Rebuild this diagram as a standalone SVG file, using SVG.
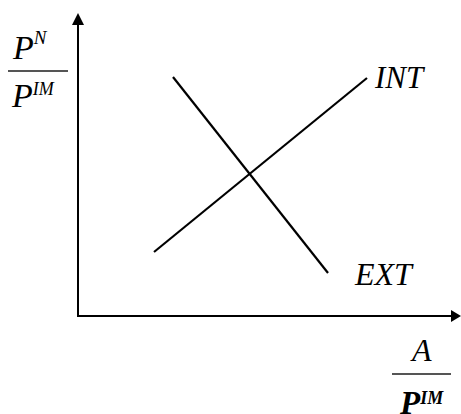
<svg xmlns="http://www.w3.org/2000/svg" width="461" height="414" viewBox="0 0 461 414">
<style>
.t{font-family:"Liberation Serif","Times New Roman",serif;font-style:italic;fill:#000}
.ax{stroke:#000;stroke-width:2;fill:none}
.ln{stroke:#000;stroke-width:2.2;fill:none}
.fr{stroke:#555;stroke-width:2}
</style>
<rect width="461" height="414" fill="#fff"/>
<g id="connectors">
<line class="ax" x1="78" y1="317" x2="78" y2="24"/>
<polygon points="78,13 72,25 84,25" fill="#000"/>
<line class="ax" x1="77" y1="316" x2="451" y2="316"/>
<polygon points="461,316 451,310 451,322" fill="#000"/>
</g>
<g id="EXT">
<line class="ln" x1="173" y1="77" x2="328" y2="273"/>
<text class="t" x="355" y="285" font-size="32">EXT</text>
</g>
<g id="INT">
<line class="ln" x1="154" y1="252" x2="367" y2="78"/>
<text class="t" x="375" y="88" font-size="31">INT</text>
</g>
<g id="ylabel">
<text class="t" x="13" y="59" font-size="34">P<tspan font-size="19" dy="-15">N</tspan></text>
<line class="fr" x1="8" y1="71" x2="68" y2="71"/>
<text class="t" x="12" y="107" font-size="34">P<tspan font-size="18" dy="-12">IM</tspan></text>
</g>
<g id="xlabel">
<text class="t" x="412" y="361" font-size="32">A</text>
<line class="fr" x1="392" y1="374" x2="451" y2="374"/>
<text class="t" x="400" y="414" font-size="33" font-weight="bold">P<tspan font-size="18" dy="-10">IM</tspan></text>
</g>
</svg>
